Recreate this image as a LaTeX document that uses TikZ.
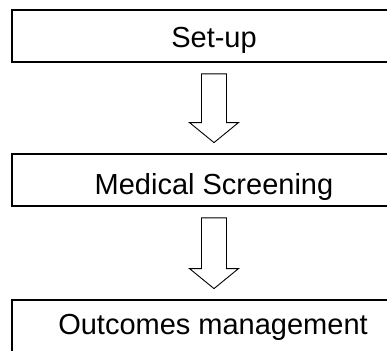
\documentclass[tikz,border=0pt]{standalone}
\usepackage{fontspec}
\setmainfont{Liberation Sans}
\usetikzlibrary{calc}

% hollow block arrow from the bottom of one box to the top of the next
\newcommand{\flowarrow}[2]{%
  \draw[blockarrow]
    ($(#1.south)+(-12.5,-11)$) -- ($(#1.south)+(12.5,-11)$)
    -- ($(#2.north)+(12.5,30.5)$) -- ($(#2.north)+(24.5,30.5)$)
    -- ($(#2.north)+(0,10.5)$)
    -- ($(#2.north)+(-24.5,30.5)$) -- ($(#2.north)+(-12.5,30.5)$)
    -- cycle;}

\begin{document}
\begin{tikzpicture}[x=1pt,y=1pt,
  stagebox/.style={draw=black, line width=1.8pt, minimum width=404pt,
    minimum height=52pt, inner sep=0pt},
  stagetext/.style={font=\fontsize{29}{34}\selectfont, anchor=base,
    inner sep=0pt},
  blockarrow/.style={draw=black, line width=0.9pt, fill=white,
    line join=miter}]
\clip (0,0) rectangle (387,350);
\fill[white] (0,0) rectangle (387,350);

% stages
\node[stagebox] (setup)   at (214,314) {};
\node[stagebox] (screen)  at (214,170) {};
\node[stagebox] (outcome) at (214,24)  {};

\node[stagetext] (setupText)   at (214,302) {Set-up};
\node[stagetext] (screenText)  at (214,155) {Medical Screening};
\node[stagetext] (outcomeText) at (213,16)  {Outcomes management};

% flow between stages
\flowarrow{setup}{screen}
\flowarrow{screen}{outcome}
\end{tikzpicture}
\end{document}
